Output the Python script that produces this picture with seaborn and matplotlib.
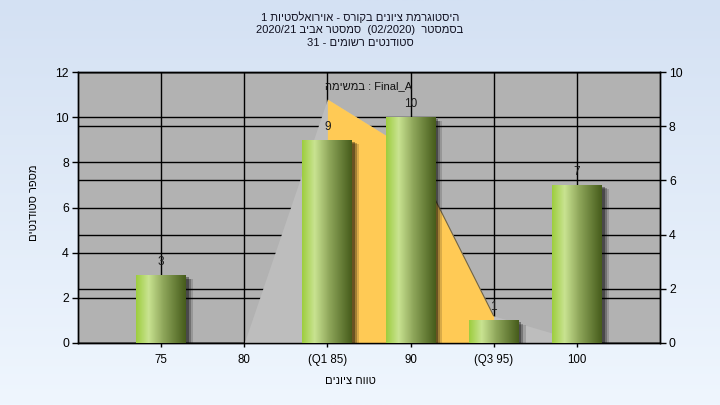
import numpy as np
import pandas as pd
import seaborn as sns
import matplotlib.pyplot as plt
import matplotlib.patheffects as pe
from matplotlib.colors import LinearSegmentedColormap

# grade ranges (x axis)
categories = ['75', '80', '(Q1 85)', '90', '(Q3 95)', '100']
# number of students per range (left axis)
students = [3, 0, 9, 10, 1, 7]
# distribution curve behind the bars (right axis)
curve = [0, 0, 9, 7.1, 1, 0.1]

# hebrew texts, written in visual order (matplotlib has no bidi)
title_lines = ['1 תויטסלאוריוא - סרוקב םינויצ תמרגוטסיה',
               '2020/21 ביבא רטסמס  (02/2020)  רטסמסב',
               '31 - םימושר םיטנדוטס']
task_label = 'המישמב : Final_A'
x_title = 'םינויצ חווט'
y_title = 'םיטנדוטס רפסמ'

df = pd.DataFrame({'range': categories, 'students': students})

sns.set_style('white')
plt.rcParams['font.family'] = ['Liberation Sans', 'DejaVu Sans']
plt.rcParams['text.color'] = 'black'
plt.rcParams['xtick.color'] = 'black'
plt.rcParams['ytick.color'] = 'black'

fig = plt.figure(figsize=(7.2, 4.05), dpi=100)

# light blue background gradient
bg = fig.add_axes([0, 0, 1, 1], zorder=-10)
bg.imshow(np.linspace(0, 1, 256).reshape(-1, 1),
          cmap=LinearSegmentedColormap.from_list('bg', ['#d4e1f3', '#eff6fe']),
          aspect='auto', extent=(0, 1, 0, 1))
bg.axis('off')

ax = fig.add_axes([0.1083, 0.1531, 0.8083, 0.6691])
ax2 = ax.twinx()
# right axis is drawn underneath: it carries the gray background
ax.set_zorder(ax2.get_zorder() + 1)
ax.patch.set_visible(False)
ax2.patch.set_visible(True)
ax2.set_facecolor('#b2b2b2')

sns.barplot(data=df, x='range', y='students', ax=ax, width=0.6,
            color='#9dcd3e', saturation=1, errorbar=None)

# grid
ax.set_axisbelow(True)
ax.grid(True, color='black', lw=1)
ax2.yaxis.grid(True, color='black', lw=1)

# area (right axis values)
xs = np.arange(len(categories))
ax.fill_between(xs, curve, color='#bdbdbd', lw=0, zorder=1, transform=ax2.transData)
ax.fill_between(xs[2:5], curve[2:5], color='#ffca55', lw=0, zorder=1.2,
                transform=ax2.transData)
ax.plot(xs[3:5], curve[3:5], color='#6b624c', lw=0.8, zorder=1.3,
        transform=ax2.transData)

# gradient bars with soft shadow
bar_cmap = LinearSegmentedColormap.from_list(
    'bar', [(0, '#9dcd3e'), (0.25, '#c9e391'), (0.55, '#8ea65a'), (1, '#465c1b')])
grad = np.linspace(0, 1, 128).reshape(1, -1)
shadow = [pe.SimplePatchShadow(offset=(5, -3), shadow_rgbFace='#000000', alpha=0.15),
          pe.SimplePatchShadow(offset=(3.5, -2.5), shadow_rgbFace='#000000', alpha=0.25),
          pe.SimplePatchShadow(offset=(2, -1.5), shadow_rgbFace='#000000', alpha=0.35),
          pe.Normal()]
for patch in list(ax.containers[0]):
    patch.set_zorder(3)
    patch.set_edgecolor('none')
    if patch.get_height() == 0:
        continue
    patch.set_path_effects(shadow)
    x0, y0 = patch.get_x(), patch.get_y()
    im = ax.imshow(grad, cmap=bar_cmap, aspect='auto', zorder=3.1,
                   extent=(x0, x0 + patch.get_width(), y0, y0 + patch.get_height()))
    im.set_clip_path(patch)

ax.bar_label(ax.containers[0], labels=[str(v) if v else '' for v in students],
             padding=5, fontsize=8.5, color='#1a1a1a')

ax.set_xlim(-1, 6)
ax.set_ylim(0, 12)
ax2.set_ylim(0, 10)
ax.set_yticks(range(0, 13, 2))
ax2.set_yticks(range(0, 11, 2))
ax.set_xlabel('')
ax.set_ylabel('')

ax.tick_params(axis='y', direction='out', length=4.5, width=1, labelsize=8.8, pad=2, left=True)
ax.tick_params(axis='x', direction='out', length=3, width=1, labelsize=8.3, pad=5, bottom=True)
ax2.tick_params(axis='y', direction='out', length=4.5, width=1, labelsize=8.8, pad=2, right=True)
for a in (ax, ax2):
    for s in a.spines.values():
        s.set_color('black')
        s.set_linewidth(1)
        s.set_visible(True)

ax.text(0.5, 0.948, task_label, transform=ax.transAxes, ha='center', va='center',
        fontsize=8, color='#111111', zorder=5)

for i, line in enumerate(title_lines):
    fig.text(0.5, 1 - (17 + 13 * i) / 405, line, ha='center', va='center', fontsize=8,
             color='#101020')
fig.text(350 / 720, 1 - 381 / 405, x_title, ha='center', va='center', fontsize=8)
fig.text(34 / 720, 1 - 203 / 405, y_title, ha='center', va='center', fontsize=8, rotation=90)

fig.savefig('out.png', dpi=100)
